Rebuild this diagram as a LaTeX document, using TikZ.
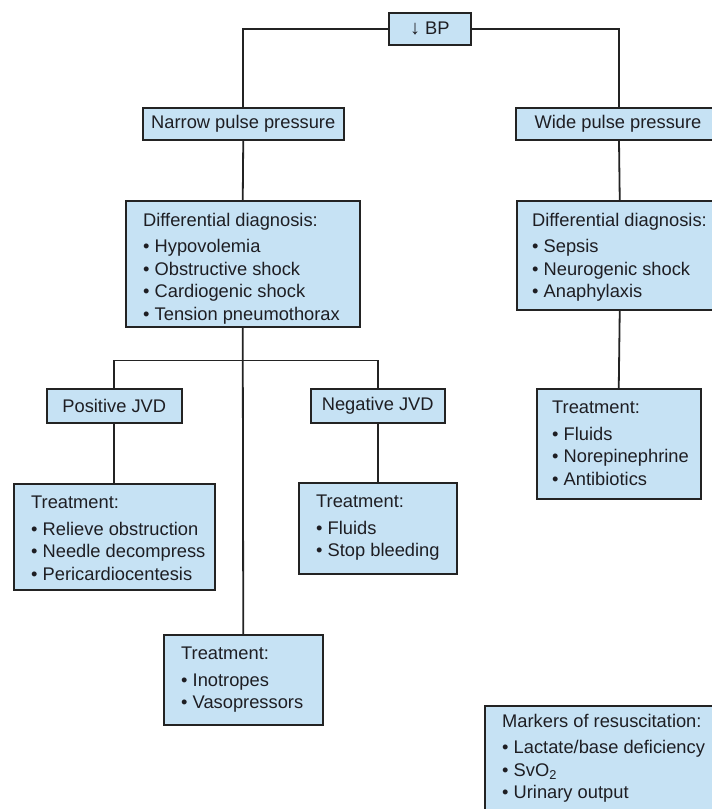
\documentclass[tikz,border=0pt]{standalone}
\usepackage{fontspec}
\setmainfont{Liberation Sans}
\usetikzlibrary{calc}
\definecolor{boxfill}{RGB}{198,226,244}
\definecolor{edge}{RGB}{35,35,35}
\definecolor{ink}{RGB}{30,30,35}
\begin{document}
\begin{tikzpicture}[x=1pt,y=1pt,
  box/.style={draw=edge,line width=1.5pt,fill=boxfill,inner sep=0pt,anchor=north west},
  lbl/.style={text=ink,inner sep=0pt,font=\fontsize{18.3}{22.5}\selectfont},
  txt/.style={lbl,anchor=north west,align=left},
  conn/.style={draw=edge,line width=1.8pt}]
\useasboundingbox (0,0) rectangle (712,-809);
\clip (0,0) rectangle (712,-809);
\fill[white] (0,0) rectangle (712,-809);
% boxes: (x1,y1) width height
\newcommand{\bx}[5]{\node[box,minimum width=#4,minimum height=#5] (#1) at (#2,-#3) {};}
\bx{bp}{388}{12}{82}{32}
\bx{narrow}{142}{107}{201}{32}
\bx{wide}{515}{107}{208}{32}
\bx{ldiff}{125}{200}{234}{126}
\bx{rdiff}{516}{200}{206}{109}
\bx{pos}{46}{388}{135}{34}
\bx{neg}{310}{388}{134}{34}
\bx{ltreat}{13}{483}{201}{106}
\bx{ntreat}{298}{482}{158}{91}
\bx{rtreat}{536}{388}{164}{110}
\bx{itreat}{163}{634}{159}{90}
\bx{markers}{484}{705}{240}{120}
% centered labels
\node[lbl] (tbp) at (bp.center) {\fontsize{20}{22}\selectfont↓\fontsize{18.3}{22.5}\selectfont\ BP};
\node[lbl] (tnarrow) at (narrow.center) {Narrow pulse pressure};
\node[lbl] (twide) at ($(wide.west)+(103,0)$) {Wide pulse pressure};
\node[lbl] (tpos) at (pos.center) {Positive JVD};
\node[lbl] (tneg) at (neg.center) {Negative JVD};
% list texts
\node[txt] (tldiff) at ($(ldiff.north west)+(18,-13)$) {Differential diagnosis:\\[4pt]
  \textbullet\ Hypovolemia\\ \textbullet\ Obstructive shock\\ \textbullet\ Cardiogenic shock\\ \textbullet\ Tension pneumothorax};
\node[txt] (trdiff) at ($(rdiff.north west)+(16,-13)$) {Differential diagnosis:\\[4pt]
  \textbullet\ Sepsis\\ \textbullet\ Neurogenic shock\\ \textbullet\ Anaphylaxis};
\node[txt] (tltreat) at ($(ltreat.north west)+(18,-13)$) {Treatment:\\[4pt]
  \textbullet\ Relieve obstruction\\ \textbullet\ Needle decompress\\ \textbullet\ Pericardiocentesis};
\node[txt] (tntreat) at ($(ntreat.north west)+(18,-13)$) {Treatment:\\[4pt]
  \textbullet\ Fluids\\ \textbullet\ Stop bleeding};
\node[txt] (trtreat) at ($(rtreat.north west)+(16,-13)$) {Treatment:\\[4pt]
  \textbullet\ Fluids\\ \textbullet\ Norepinephrine\\ \textbullet\ Antibiotics};
\node[txt] (titreat) at ($(itreat.north west)+(18,-13)$) {Treatment:\\[4pt]
  \textbullet\ Inotropes\\ \textbullet\ Vasopressors};
\node[txt] (tmarkers) at ($(markers.north west)+(18,-9)$) {Markers of resuscitation:\\[4pt]
  \textbullet\ Lactate/base deficiency\\ \textbullet\ SvO\textsubscript{2}\\ \textbullet\ Urinary output};
% connectors
\coordinate (wtop) at ($(wide.north west)+(104,0)$);
\draw[conn] (bp.west) -| (narrow.north);
\draw[conn] (bp.east) -| (wtop);
\draw[conn] (narrow.south) -- (ldiff.north);
\draw[conn] (wide.south -| wtop) -- (rdiff.north);
\draw[conn] (ldiff.south) -- (itreat.north);
\coordinate (br) at ($(ldiff.south)+(0,-33)$);
\draw[conn] (pos.north) |- (br) -| (neg.north);
\draw[conn] (pos.south) -- (ltreat.north);
\draw[conn] (neg.south) -- (ntreat.north);
\draw[conn] (rdiff.south) -- (rtreat.north);
\end{tikzpicture}
\end{document}
